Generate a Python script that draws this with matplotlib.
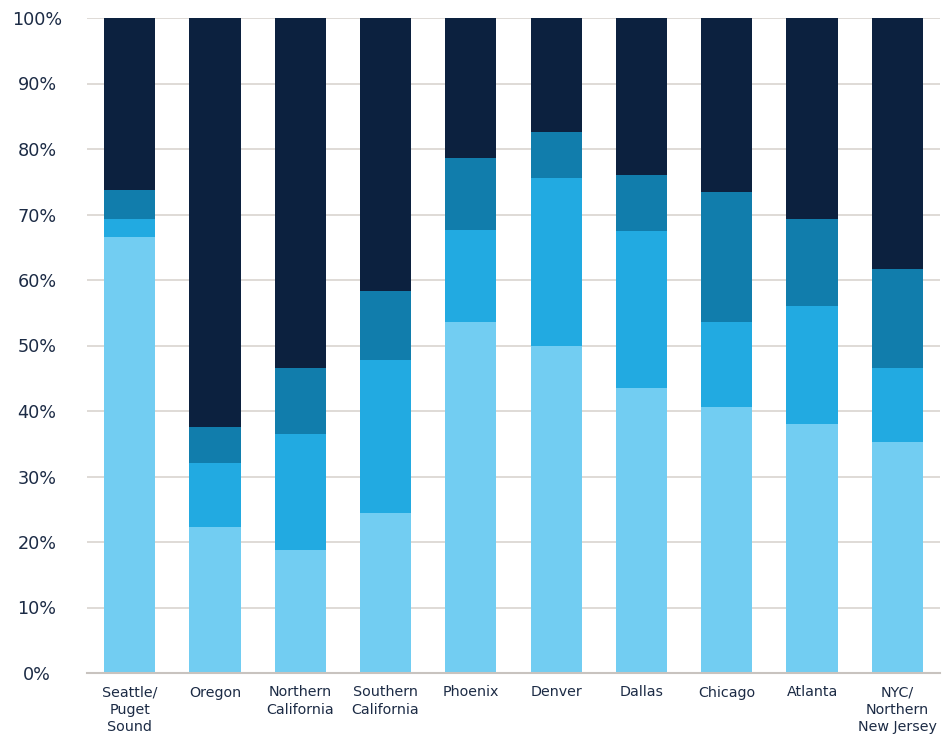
import matplotlib
matplotlib.use("Agg")
import numpy as np
import matplotlib.pyplot as plt

# ## ---- ## #
# ## Data ## #
# ## ---- ## #

markets = ["Seattle/\nPuget\nSound", "Oregon", "Northern\nCalifornia", "Southern\nCalifornia",
           "Phoenix", "Denver", "Dallas", "Chicago", "Atlanta", "NYC/\nNorthern\nNew Jersey"]

# share of each segment, bottom to top (percent)
seg_1 = [66.6, 22.3, 18.8, 24.4, 53.6, 50.0, 43.5, 40.6, 38.0, 35.3]
seg_2 = [2.7, 9.8, 17.7, 23.4, 14.0, 25.6, 24.0, 13.0, 18.0, 11.3]
seg_3 = [4.4, 5.5, 10.1, 10.5, 11.0, 7.0, 8.6, 19.8, 13.3, 15.1]
seg_4 = [26.3, 62.4, 53.4, 41.7, 21.4, 17.4, 23.9, 26.6, 30.7, 38.3]

y_ticks = [0, 10, 20, 30, 40, 50, 60, 70, 80, 90, 100]
y_tick_labels = [f"{t}%" for t in y_ticks]

colors = ["#72CDF2", "#22AAE1", "#117DAC", "#0C213F"]
text_color = "#1C2B45"

plt.rcParams["font.family"] = ["DejaVu Sans"]

fig = plt.figure(figsize=(9.44, 7.39), dpi=100)
ax = fig.add_axes([87 / 944, 66 / 739, 853 / 944, 655 / 739])

x = np.arange(len(markets))
bottom = np.zeros(len(markets))
for values, color in zip([seg_1, seg_2, seg_3, seg_4], colors):
    ax.bar(x, values, width=0.6, bottom=bottom, color=color, zorder=3)
    bottom += np.array(values)

# Tidy axes
ax.set_xlim(-0.5, len(markets) - 0.5)
ax.set_ylim(0, 100)
ax.set_yticks(y_ticks)
ax.set_yticklabels(y_tick_labels, fontsize=12.7, color=text_color, ha="center")
ax.tick_params(axis="y", length=0, pad=36)
ax.set_xticks(x)
ax.set_xticklabels(markets, fontsize=10.3, color=text_color, linespacing=1.3)
ax.tick_params(axis="x", length=0, pad=9)

ax.grid(axis="y", color="#D9D4D0", linewidth=1.2, zorder=0)
for side in ["top", "right", "left"]:
    ax.spines[side].set_visible(False)
ax.spines["bottom"].set_color("#C8C3BF")
ax.spines["bottom"].set_linewidth(1.5)
ax.spines["bottom"].set_zorder(4)

fig.savefig("out.png", dpi=100, facecolor="white")
